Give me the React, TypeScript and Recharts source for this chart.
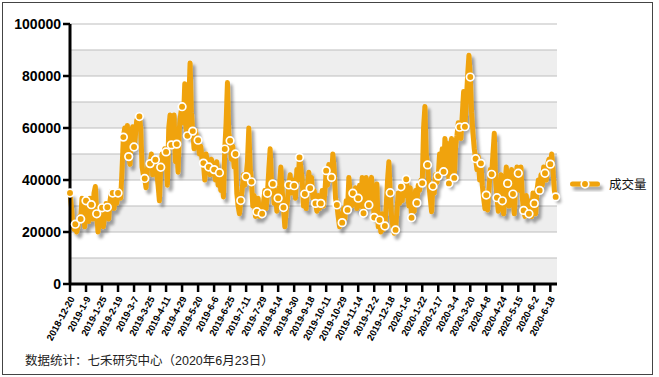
import React from 'react';
import { LineChart, Line, XAxis, YAxis, ReferenceArea, ReferenceLine, Legend } from 'recharts';

const tickLabels = [
  '2018-12-20', '2019-1-9', '2019-1-25', '2019-2-19', '2019-3-7', '2019-3-25', '2019-4-11', '2019-4-29',
  '2019-5-20', '2019-6-6', '2019-6-25', '2019-7-11', '2019-7-29', '2019-8-14', '2019-8-30', '2019-9-18',
  '2019-10-11', '2019-10-29', '2019-11-14', '2019-12-2', '2019-12-18', '2020-1-6', '2020-1-22', '2020-2-17',
  '2020-3-4', '2020-3-20', '2020-4-8', '2020-4-24', '2020-5-15', '2020-6-2', '2020-6-18',
];
const tickStep = 12;
const markerStep = 4;

const volumes = [
  35000, 30000, 24000, 21000, 23000, 20000, 22000, 26000, 25000, 33000, 28000, 22000,
  32000, 29000, 24000, 33000, 30500, 25000, 35000, 37500, 27000, 20000, 24000, 30000,
  29300, 22000, 27000, 31000, 29500, 25000, 32000, 35500, 35000, 29000, 34000, 31000,
  35000, 36000, 33000, 44000, 56500, 60000, 50000, 61000, 49000, 46000, 58000, 60500,
  52700, 57000, 63000, 62000, 64400, 60000, 45000, 42000, 40600, 37000, 44000, 47000,
  46300, 50000, 42000, 46000, 47800, 43000, 38000, 32000, 44900, 50000, 46000, 52000,
  50800, 38000, 60000, 65000, 53500, 62000, 65000, 47000, 53800, 43000, 60000, 65500,
  68200, 62000, 77000, 60000, 57000, 70000, 85000, 66000, 58800, 52000, 59000, 56000,
  55300, 50000, 53000, 48000, 46500, 40000, 50000, 47000, 45000, 42000, 48000, 44000,
  44000, 40000, 47000, 38000, 42800, 36000, 40000, 33500, 51900, 62000, 77500, 58000,
  55100, 48000, 53000, 45000, 50000, 35000, 30000, 27000, 32100, 36000, 42000, 38000,
  41300, 47000, 60000, 45000, 39300, 30000, 34000, 26000, 27800, 33000, 26000, 30000,
  27000, 31000, 36000, 29000, 34900, 44000, 52000, 40000, 38500, 31000, 36000, 28000,
  33000, 38000, 45000, 36000, 29400, 22000, 28000, 32000, 38100, 42000, 35000, 40000,
  37800, 33000, 44000, 40000, 48700, 45000, 40000, 30000, 34600, 29000, 38000, 43000,
  36800, 41000, 33000, 36000, 31000, 28000, 34000, 29000, 31000, 36000, 30000, 35000,
  43600, 38000, 46000, 40000, 41000, 50000, 44000, 33000, 30400, 26000, 22000, 27000,
  23600, 29000, 25000, 32000, 28500, 41000, 35000, 30000, 34900, 31000, 37000, 29000,
  33000, 38000, 30000, 41000, 27200, 35000, 41000, 31000, 30400, 38000, 41000, 33000,
  25600, 31000, 38500, 22000, 24600, 20000, 27000, 21000, 22300, 30000, 40000, 47000,
  35100, 26000, 22000, 19500, 20800, 28000, 35000, 31000, 37400, 32000, 38000, 34000,
  40300, 35000, 30000, 37000, 25500, 33000, 28000, 36000, 31200, 38000, 36000, 40000,
  38800, 60000, 68300, 50000, 45800, 38000, 33000, 27800, 37600, 35000, 42000, 39000,
  41500, 50000, 45000, 52000, 43200, 56000, 48000, 54000, 38700, 51000, 56000, 47000,
  40800, 53000, 57000, 62000, 60300, 56000, 65000, 74000, 60500, 70000, 80000, 88000,
  79600, 66000, 58000, 52000, 48200, 44000, 49000, 40000, 46400, 38000, 33000, 29000,
  34200, 28500, 36000, 44000, 42200, 50000, 58000, 40000, 33200, 28000, 36000, 42000,
  32000, 27000, 38000, 45000, 38700, 30000, 36000, 44000, 34600, 27000, 38000, 45000,
  42600, 36000, 45000, 33000, 28300, 26000, 34000, 27000, 27000, 32000, 26000, 35000,
  31000, 27000, 36000, 40000, 36000, 42000, 38000, 45000, 42600, 40000, 46000, 48000,
  46100, 50000, 44000, 36000, 33500, 34000,
];

const yTicks = [0, 20000, 40000, 60000, 80000, 100000];
const gridValues = [10000, 20000, 30000, 40000, 50000, 60000, 70000, 80000, 90000, 100000];
const bandStarts = [0, 20000, 40000, 60000, 80000];
const bandHeight = 10000;
const seriesName = '成交量';
const footnote = '数据统计：七禾研究中心（2020年6月23日）';

const ORANGE = '#F0A30A';
const FONT = '"Liberation Sans", Arial, "Noto Sans CJK SC", sans-serif';

const data = volumes.map((v, i) => ({ idx: i, v }));
const xTicks = tickLabels.map((_, k) => k * tickStep);

const XTick = (props: any) => {
  const { x, y, payload } = props;
  const label = tickLabels[Math.round(payload.value / tickStep)];
  return (
    <text
      x={0}
      y={0}
      dy="0.35em"
      transform={`translate(${x + 2},${y + 3}) rotate(-62)`}
      textAnchor="end"
      fontSize={9.5}
      fontWeight="bold"
      fontFamily={FONT}
      fill="#000"
    >
      {label}
    </text>
  );
};

const renderDot = (props: any) => {
  const { cx, cy, index } = props;
  if (index % markerStep !== 0) return <g key={`d${index}`} />;
  return <circle key={`d${index}`} cx={cx} cy={cy} r={3.8} fill={ORANGE} stroke="#fff" strokeWidth={1.7} />;
};

const LegendContent = () => (
  <div style={{ display: 'flex', alignItems: 'center', fontFamily: FONT }}>
    <svg width={40} height={18} style={{ overflow: 'visible' }}>
      <rect x={4} y={6.5} width={30} height={5} rx={2.5} fill={ORANGE} style={{ filter: 'url(#lshadow)' }} />
      <circle cx={19} cy={9} r={3.8} fill={ORANGE} stroke="#fff" strokeWidth={1.7} />
    </svg>
    <span style={{ fontSize: 12.5, color: '#111', marginLeft: 3 }}>{seriesName}</span>
  </div>
);

export default function App() {
  return (
    <div style={{ position: 'absolute', left: 0, top: 0, width: 659, height: 377, background: '#fff' }}>
      <style>{`.recharts-line-curve{filter:url(#lshadow);}`}</style>
      <svg width={0} height={0} style={{ position: 'absolute' }}>
        <defs>
          <filter id="lshadow" x="-20%" y="-50%" width="150%" height="250%">
            <feDropShadow dx="3" dy="4" stdDeviation="1.6" floodColor="#000" floodOpacity="0.35" />
          </filter>
        </defs>
      </svg>
      <div
        style={{
          position: 'absolute',
          left: 2,
          top: 2,
          width: 651,
          height: 373,
          boxSizing: 'border-box',
          border: '1.5px solid #444',
        }}
      />
      <div style={{ position: 'absolute', left: 0, top: 0 }}>
        <LineChart width={659} height={377} data={data} margin={{ top: 24, right: 102, bottom: 33, left: 10 }}>
          {bandStarts.map((b) => (
            <ReferenceArea key={`b${b}`} y1={b} y2={b + bandHeight} fill="#eeeeee" fillOpacity={1} stroke="none" ifOverflow="visible" />
          ))}
          {gridValues.map((g) => (
            <ReferenceLine key={`g${g}`} y={g} stroke="#bdbdbd" strokeWidth={1.2} />
          ))}
          <XAxis
            dataKey="idx"
            type="number"
            domain={[0, volumes.length - 1]}
            ticks={xTicks}
            interval={0}
            tick={<XTick />}
            tickSize={8}
            height={60}
            axisLine={{ stroke: '#000', strokeWidth: 3 }}
            tickLine={{ stroke: '#000', strokeWidth: 2.5 }}
          />
          <YAxis
            domain={[0, 100000]}
            ticks={yTicks}
            interval={0}
            width={60}
            tickSize={7}
            tickMargin={2}
            tick={{ fill: '#000', fontSize: 14, fontWeight: 'bold', fontFamily: FONT }}
            axisLine={{ stroke: '#000', strokeWidth: 3 }}
            tickLine={{ stroke: '#000', strokeWidth: 2.5 }}
          />
          <Legend
            layout="horizontal"
            align="center"
            verticalAlign="middle"
            content={<LegendContent />}
            wrapperStyle={{ left: 566, top: 174, width: 90, height: 18 }}
          />
          <Line
            type="linear"
            dataKey="v"
            name={seriesName}
            stroke={ORANGE}
            strokeWidth={5}
            strokeLinejoin="round"
            dot={renderDot}
            activeDot={false}
            isAnimationActive={false}
          />
        </LineChart>
      </div>
      <div
        style={{
          position: 'absolute',
          left: 25,
          top: 350,
          fontSize: 12.5,
          color: '#222',
          fontFamily: FONT,
          whiteSpace: 'nowrap',
        }}
      >
        {footnote}
      </div>
    </div>
  );
}
